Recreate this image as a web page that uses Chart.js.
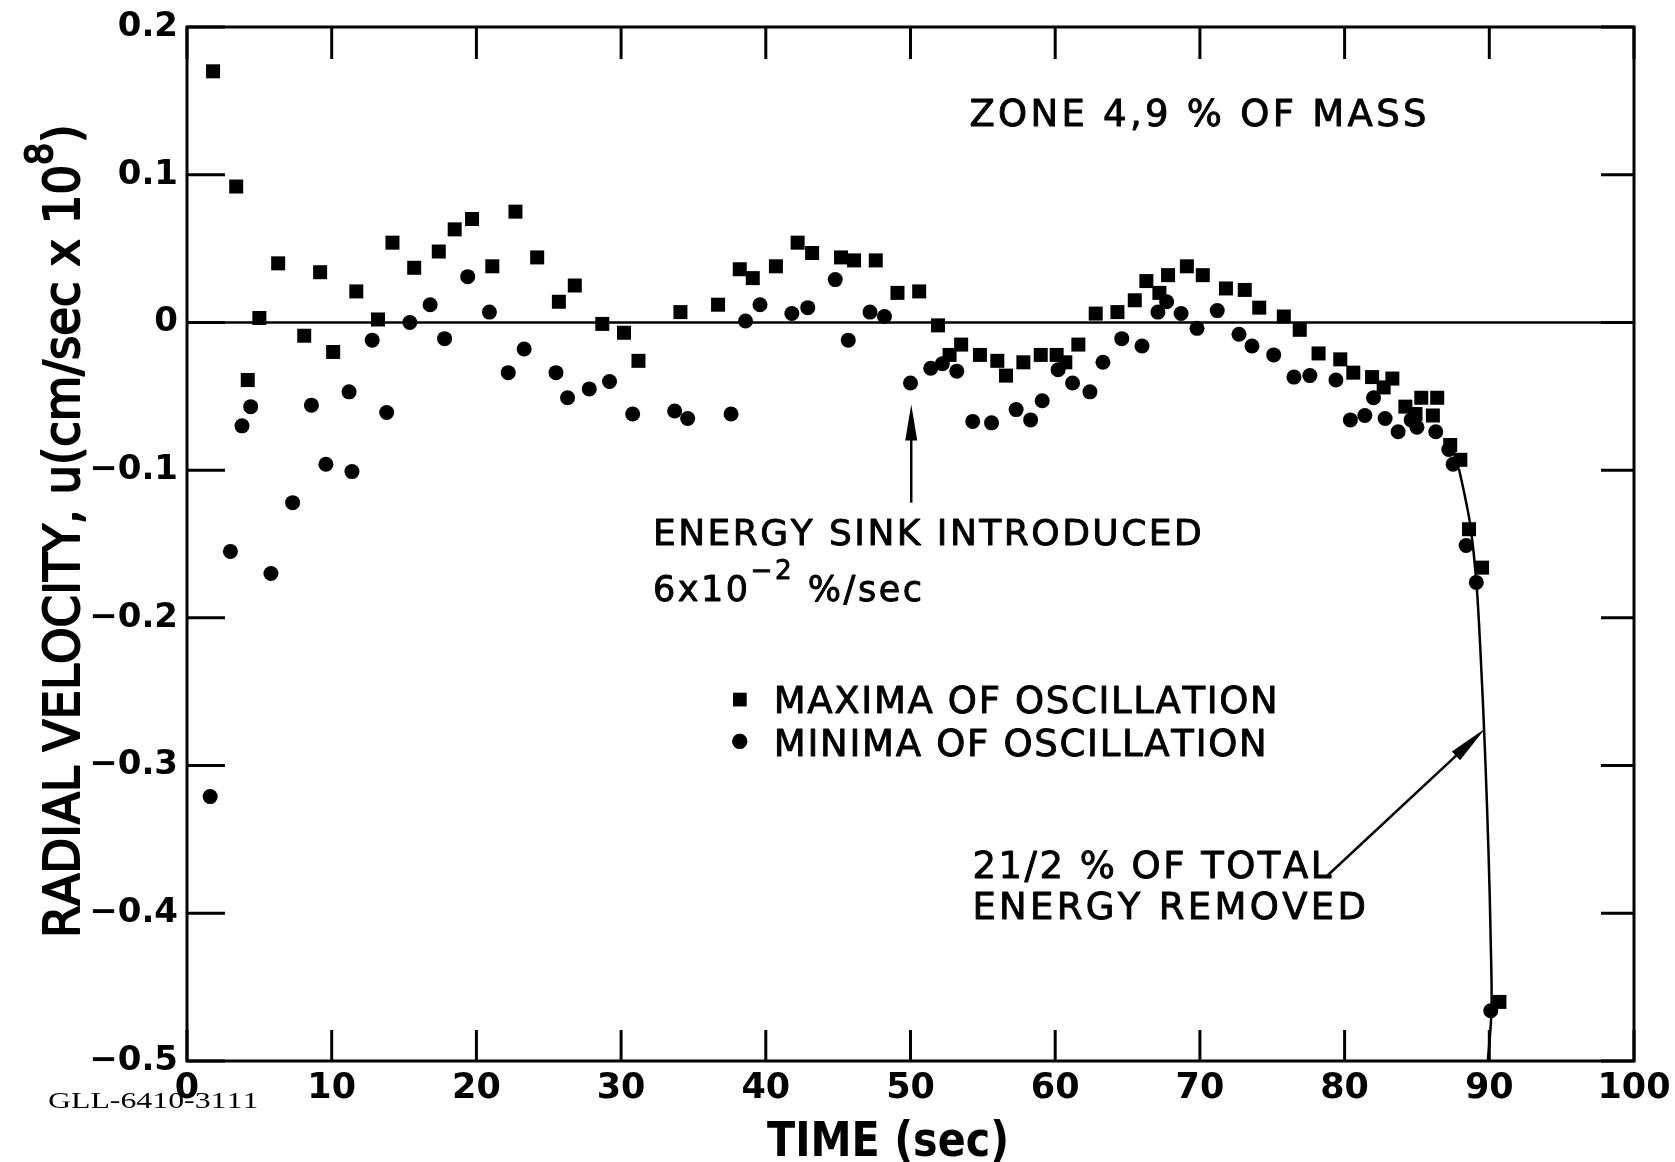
<!DOCTYPE html>
<html>
<head>
<meta charset="utf-8">
<title>Radial velocity, zone 4</title>
<script src="https://cdn.jsdelivr.net/npm/chart.js@4.4.1/dist/chart.umd.min.js"></script>
<style>
  html, body { margin: 0; padding: 0; background: #fff; }
  canvas { display: block; }
</style>
</head>
<body>
<canvas id="chart" width="1675" height="1162"></canvas>
<script>
// maxima of oscillation: time (sec) / radial velocity (1e8 cm/sec)
const maximaTime = [1.8, 3.4, 4.2, 5.0, 6.3, 8.1, 9.2, 10.1, 11.7, 13.2, 14.2, 15.7, 17.4, 18.5, 19.7, 21.1, 22.7, 24.2, 25.7, 26.8,
  28.7, 30.2, 31.2, 34.1, 36.7, 38.2, 39.1, 40.7, 42.2, 43.2, 45.2, 46.1, 47.6, 49.1, 50.6, 51.9, 52.7, 53.5, 54.8, 56.0,
  56.6, 57.8, 59.0, 60.1, 60.7, 61.6, 62.8, 64.3, 65.5, 66.3, 67.2, 67.8, 69.1, 70.2, 71.8, 73.1, 74.1, 75.8, 76.9, 78.2,
  79.7, 80.6, 81.9, 82.7, 83.3, 84.2, 84.9, 85.3, 86.1, 86.4, 87.3, 88.0, 88.6, 89.5, 90.7]
const maximaVelocity = [0.170, 0.092, -0.039, 0.003, 0.040, -0.009, 0.034, -0.020, 0.021, 0.002, 0.054, 0.037, 0.048, 0.063, 0.070, 0.038, 0.075, 0.044, 0.014, 0.025,
  -0.001, -0.007, -0.026, 0.007, 0.012, 0.036, 0.030, 0.038, 0.054, 0.047, 0.044, 0.042, 0.042, 0.020, 0.021, -0.002, -0.022, -0.015, -0.022, -0.026,
  -0.036, -0.027, -0.022, -0.022, -0.027, -0.015, 0.006, 0.007, 0.015, 0.028, 0.020, 0.032, 0.038, 0.032, 0.023, 0.022, 0.010, 0.004, -0.005, -0.021,
  -0.025, -0.034, -0.037, -0.044, -0.038, -0.057, -0.062, -0.051, -0.063, -0.051, -0.083, -0.093, -0.140, -0.166, -0.460]

// minima of oscillation
const minimaTime = [1.6, 3.0, 3.8, 4.4, 5.8, 7.3, 8.6, 9.6, 11.2, 11.4, 12.8, 13.8, 15.4, 16.8, 17.8, 19.4, 20.9, 22.2, 23.3, 25.5,
  26.3, 27.8, 29.2, 30.8, 33.7, 34.6, 37.6, 38.6, 39.6, 41.8, 42.9, 44.8, 45.7, 47.2, 48.2, 50.0, 51.4, 52.2, 53.2, 54.3,
  55.6, 57.3, 58.3, 59.1, 60.2, 61.2, 62.4, 63.3, 64.6, 66.0, 67.1, 67.7, 68.7, 69.8, 71.2, 72.7, 73.6, 75.1, 76.5, 77.6,
  79.4, 80.4, 81.4, 82.0, 82.8, 83.7, 84.6, 85.0, 86.3, 87.2, 87.5, 88.4, 89.1, 90.1]
const minimaVelocity = [-0.321, -0.155, -0.070, -0.057, -0.170, -0.122, -0.056, -0.096, -0.047, -0.101, -0.012, -0.061, 0.000, 0.012, -0.011, 0.031, 0.007, -0.034, -0.018, -0.034,
  -0.051, -0.045, -0.040, -0.062, -0.060, -0.065, -0.062, 0.001, 0.012, 0.006, 0.010, 0.029, -0.012, 0.007, 0.004, -0.041, -0.031, -0.028, -0.033, -0.067,
  -0.068, -0.059, -0.066, -0.053, -0.032, -0.041, -0.047, -0.027, -0.011, -0.016, 0.007, 0.014, 0.006, -0.004, 0.008, -0.008, -0.016, -0.022, -0.037, -0.036,
  -0.039, -0.066, -0.063, -0.051, -0.065, -0.074, -0.066, -0.071, -0.074, -0.086, -0.096, -0.151, -0.176, -0.466]

// freehand curve through the final collapse
const curveTime = [87.9, 88.3, 88.7, 89.1, 89.4, 89.7, 89.95, 90.1, 90.15, 89.9]
const curveVelocity = [-0.099, -0.117, -0.138, -0.175, -0.225, -0.29, -0.36, -0.42, -0.466, -0.5]

const timeTicks = [0, 10, 20, 30, 40, 50, 60, 70, 80, 90, 100]
const velocityTicks = [-0.5, -0.4, -0.3, -0.2, -0.1, 0, 0.1, 0.2]

const points = (xs, ys) => xs.map((x, i) => ({ x, y: ys[i] }))

const sans = '"DejaVu Sans", "Liberation Sans", sans-serif'

// text helpers: runs are [{ text, scale, rise }], spread or squeezed to a given width
function runWidth(ctx, runs, size, weight, family) {
  return runs.reduce((w, r) => {
    ctx.font = `${weight} ${size * (r.scale || 1)}px ${family}`
    return w + ctx.measureText(r.text).width
  }, 0)
}

function fitText(ctx, runs, x, y, { size, width, weight = 'normal', family = sans, squeeze = false, heavy = 0 }) {
  if (typeof runs === 'string') runs = [{ text: runs }]
  const w0 = runWidth(ctx, runs, size, weight, family)
  const chars = runs.reduce((n, r) => n + [...r.text].length, 0)
  let spacing = 0
  let sx = 1
  if (squeeze || w0 > width) sx = width / w0
  else spacing = (width - w0) / Math.max(chars - 1, 1)
  ctx.save()
  ctx.translate(x, y)
  ctx.scale(sx, 1)
  ctx.textBaseline = 'alphabetic'
  ctx.textAlign = 'left'
  ctx.lineWidth = heavy
  ctx.lineJoin = 'round'
  let cx = 0
  for (const r of runs) {
    ctx.font = `${weight} ${size * (r.scale || 1)}px ${family}`
    for (const ch of r.text) {
      ctx.fillText(ch, cx, -(r.rise || 0))
      if (heavy) ctx.strokeText(ch, cx, -(r.rise || 0))
      cx += ctx.measureText(ch).width + spacing
    }
  }
  ctx.restore()
}

function arrow(ctx, x1, y1, x2, y2, head = 36, half = 6) {
  const a = Math.atan2(y2 - y1, x2 - x1)
  ctx.beginPath()
  ctx.moveTo(x1, y1)
  ctx.lineTo(x2 - Math.cos(a) * head * 0.6, y2 - Math.sin(a) * head * 0.6)
  ctx.stroke()
  ctx.beginPath()
  ctx.moveTo(x2, y2)
  ctx.lineTo(x2 - Math.cos(a) * head - Math.sin(a) * half, y2 - Math.sin(a) * head + Math.cos(a) * half)
  ctx.lineTo(x2 - Math.cos(a) * head + Math.sin(a) * half, y2 - Math.sin(a) * head - Math.cos(a) * half)
  ctx.closePath()
  ctx.fill()
}

const framePlugin = {
  id: 'frame',
  beforeDatasetsDraw(chart) {
    const { ctx, chartArea: a, scales: { x, y } } = chart
    const seg = (x1, y1, x2, y2) => { ctx.beginPath(); ctx.moveTo(x1, y1); ctx.lineTo(x2, y2); ctx.stroke() }
    ctx.save()
    ctx.strokeStyle = '#000'
    ctx.lineWidth = 2.5
    const y0 = y.getPixelForValue(0)
    seg(a.left, y0, a.right, y0)
    ctx.lineWidth = 3
    ctx.strokeRect(a.left, a.top, a.width, a.height)
    // ticks point inward on all four sides
    x.ticks.forEach(t => {
      const px = x.getPixelForValue(t.value)
      seg(px, a.top, px, a.top + 32)
      seg(px, a.bottom, px, a.bottom - 31)
    })
    y.ticks.forEach(t => {
      const py = y.getPixelForValue(t.value)
      seg(a.left, py, a.left + 38, py)
      seg(a.right, py, a.right - 33, py)
    })
    ctx.restore()
  },
  afterDraw(chart) {
    const { ctx, scales: { x, y } } = chart
    const X = v => x.getPixelForValue(v)
    const Y = v => y.getPixelForValue(v)
    ctx.save()
    ctx.fillStyle = '#000'
    ctx.strokeStyle = '#000'

    fitText(ctx, 'ZONE 4,9 % OF MASS', X(54.07), Y(0.1418) + 13, { size: 37, width: 457, heavy: 0.9 })

    // energy sink marker at t = 50 s
    ctx.lineWidth = 2.5
    arrow(ctx, X(50.05), Y(-0.122), X(50.05), Y(-0.0555), 36, 6)
    fitText(ctx, 'ENERGY SINK INTRODUCED', X(32.2), Y(-0.1507), { size: 36, width: 547, heavy: 0.9 })
    fitText(ctx, [{ text: '6x10' }, { text: '−2', scale: 0.75, rise: 22 }, { text: ' %/sec' }],
      X(32.2), Y(-0.1885), { size: 35, width: 269, heavy: 0.9 })

    // legend
    Chart.helpers.drawPoint(ctx, { pointStyle: 'rect', radius: 9.5, borderWidth: 0 }, X(38.2), Y(-0.2553))
    ctx.fill()
    Chart.helpers.drawPoint(ctx, { pointStyle: 'circle', radius: 7.5, borderWidth: 0 }, X(38.2), Y(-0.2836))
    ctx.fill()
    fitText(ctx, 'MAXIMA OF OSCILLATION', X(40.55), Y(-0.2647), { size: 37, width: 502, heavy: 0.9 })
    fitText(ctx, 'MINIMA OF OSCILLATION', X(40.55), Y(-0.2937), { size: 37, width: 491, heavy: 0.9 })

    // energy removed note
    arrow(ctx, X(78.8), Y(-0.3746), X(89.72), Y(-0.2749), 40, 6)
    fitText(ctx, '21/2 % OF TOTAL', X(54.28), Y(-0.3761), { size: 37, width: 356, heavy: 0.9 })
    fitText(ctx, 'ENERGY REMOVED', X(54.28), Y(-0.4038), { size: 37, width: 391, heavy: 0.9 })

    // axis titles
    fitText(ctx, 'TIME (sec)', 767, 1156, { size: 48, width: 242, weight: 'bold', squeeze: true })
    ctx.save()
    ctx.translate(79, 938)
    ctx.rotate(-Math.PI / 2)
    fitText(ctx, [{ text: 'RADIAL VELOCITY, u(cm/sec x 10' }, { text: '8', scale: 0.75, rise: 27 }, { text: ')' }],
      0, 0, { size: 49, width: 810, squeeze: true, heavy: 2 })
    ctx.restore()

    fitText(ctx, 'GLL-6410-3111', 48, 1108, { size: 24, width: 208, family: '"Liberation Serif", "DejaVu Serif", serif', squeeze: true })
    ctx.restore()
  }
}

// keep the plot box where the layout padding puts it
const noEdgePadding = s => { s.paddingTop = s.paddingBottom = s.paddingLeft = s.paddingRight = 0 }

new Chart(document.getElementById('chart'), {
  type: 'scatter',
  data: {
    datasets: [
      {
        label: 'Maxima of oscillation',
        data: points(maximaTime, maximaVelocity),
        pointStyle: 'rect',
        pointRadius: 9.9,
        pointBorderWidth: 0,
        backgroundColor: '#000'
      },
      {
        label: 'Minima of oscillation',
        data: points(minimaTime, minimaVelocity),
        pointStyle: 'circle',
        pointRadius: 7.5,
        pointBorderWidth: 0,
        backgroundColor: '#000'
      },
      {
        type: 'line',
        label: 'Collapse',
        data: points(curveTime, curveVelocity),
        showLine: true,
        pointRadius: 0,
        borderColor: '#000',
        borderWidth: 2.5,
        tension: 0.35,
        fill: false
      }
    ]
  },
  options: {
    responsive: false,
    animation: false,
    events: [],
    layout: { padding: { left: 0, top: 27, right: 41, bottom: 0 } },
    plugins: { legend: { display: false }, tooltip: { enabled: false } },
    scales: {
      x: {
        type: 'linear',
        min: 0,
        max: 100,
        afterBuildTicks: s => { s.ticks = timeTicks.map(value => ({ value })) },
        afterFit: s => { s.height = 101; noEdgePadding(s) },
        grid: { display: false, drawTicks: false },
        border: { display: false },
        ticks: { color: '#000', padding: 7, font: { family: sans, size: 35, weight: 'bold' } }
      },
      y: {
        type: 'linear',
        min: -0.5,
        max: 0.2,
        afterBuildTicks: s => { s.ticks = velocityTicks.map(value => ({ value })) },
        afterFit: s => { s.width = 187; noEdgePadding(s) },
        grid: { display: false, drawTicks: false },
        border: { display: false },
        ticks: {
          color: '#000',
          padding: 9,
          font: { family: sans, size: 34, weight: 'bold' },
          callback: v => Math.abs(v) < 1e-9 ? '0' : (v < 0 ? '−' : '') + Math.abs(v).toFixed(1)
        }
      }
    }
  },
  plugins: [framePlugin]
})
</script>
</body>
</html>
